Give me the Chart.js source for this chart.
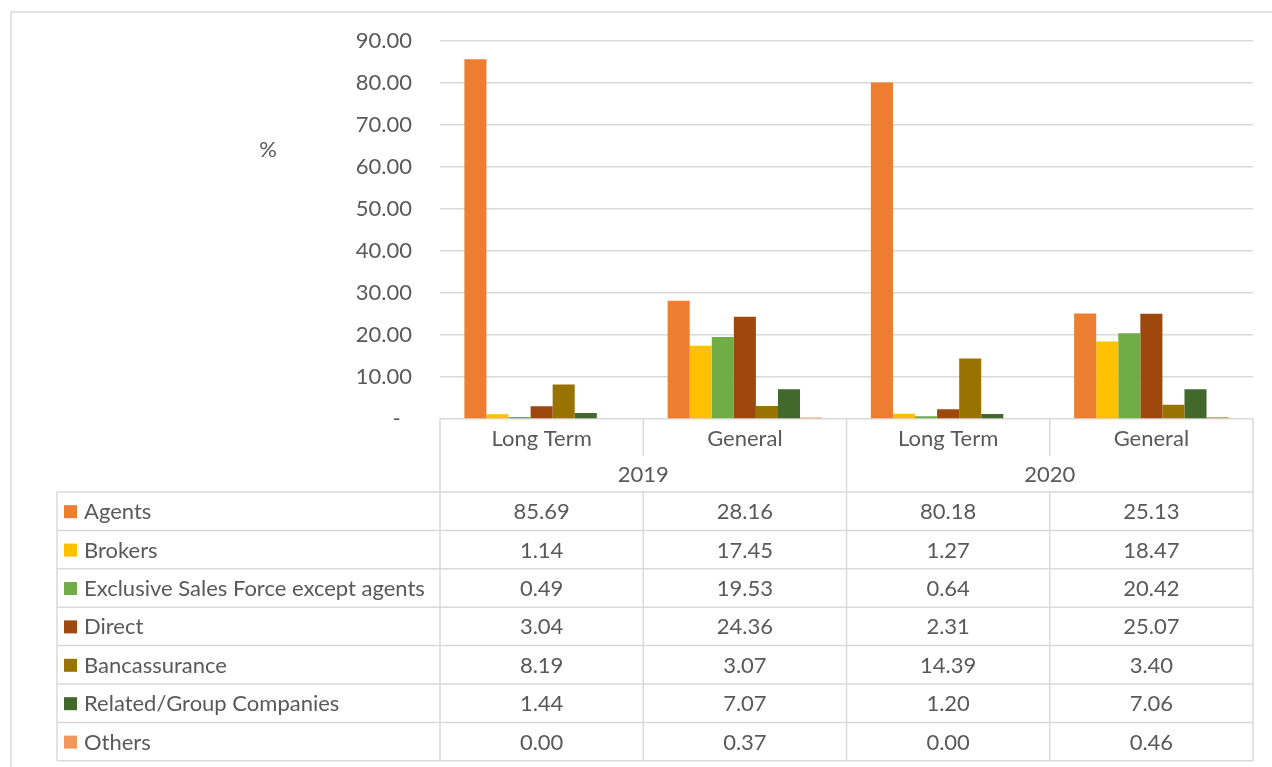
<!DOCTYPE html>
<html>
<head>
<meta charset="utf-8">
<script src="https://cdn.jsdelivr.net/npm/chart.js@4"></script>
<style>
  body { margin: 0; background: #fff; }
  canvas { display: block; }
</style>
</head>
<body>
<canvas id="barChart" width="1272" height="767"></canvas>
<script>
let groups = ["Long Term", "General", "Long Term", "General"];
let years = ["2019", "2020"];
let agents = [85.69, 28.16, 80.18, 25.13];
let brokers = [1.14, 17.45, 1.27, 18.47];
let salesForce = [0.49, 19.53, 0.64, 20.42];
let direct = [3.04, 24.36, 2.31, 25.07];
let bancassurance = [8.19, 3.07, 14.39, 3.40];
let relatedCompanies = [1.44, 7.07, 1.20, 7.06];
let others = [0.00, 0.37, 0.00, 0.46];
let yTicks = [0, 10, 20, 30, 40, 50, 60, 70, 80, 90];

let fontFamily = "Lato, 'Liberation Sans', sans-serif";
let fontSize = 22;
let textColor = '#595959';
let lineColor = '#d9d9d9';

// draws the outer frame, the "%" label and the data table under the bars
let tablePlugin = {
    id: 'dataTable',
    beforeDraw(chart) {
        let c = chart.ctx;
        c.save();
        c.strokeStyle = lineColor;
        c.lineWidth = 1.5;
        c.beginPath();
        c.moveTo(11, 767);
        c.lineTo(11, 12);
        c.lineTo(1272, 12);
        c.stroke();
        c.restore();
    },
    afterDraw(chart) {
        let c = chart.ctx;
        let x = chart.scales.x;
        let area = chart.chartArea;
        let half = (x.getPixelForValue(1) - x.getPixelForValue(0)) / 2;
        let edges = [];
        for (let i = 0; i < groups.length; i++) edges.push(x.getPixelForValue(i) - half);
        edges.push(x.getPixelForValue(groups.length - 1) + half);

        let top = area.bottom;
        let headRow = 37;
        let yearRow = 36;
        let bodyTop = top + headRow + yearRow;
        let rowH = 38.4;
        let tableLeft = 57;

        let series = chart.data.datasets;
        let bodyBottom = bodyTop + rowH * series.length;

        c.save();
        c.strokeStyle = lineColor;
        c.lineWidth = 1.5;
        c.beginPath();
        // vertical lines
        edges.forEach(function (ex, i) {
            if (i % 2 === 0) {
                c.moveTo(ex, top);
                c.lineTo(ex, bodyBottom);
            } else {
                c.moveTo(ex, top);
                c.lineTo(ex, top + headRow);
                c.moveTo(ex, bodyTop);
                c.lineTo(ex, bodyBottom);
            }
        });
        c.moveTo(tableLeft, bodyTop);
        c.lineTo(tableLeft, bodyBottom);
        // horizontal lines
        for (let r = 0; r <= series.length; r++) {
            c.moveTo(tableLeft, bodyTop + r * rowH);
            c.lineTo(edges[edges.length - 1], bodyTop + r * rowH);
        }
        c.stroke();

        c.fillStyle = textColor;
        c.font = fontSize + "px " + fontFamily;
        c.textAlign = 'center';
        c.textBaseline = 'middle';
        groups.forEach(function (g, i) {
            c.fillText(g, x.getPixelForValue(i), top + headRow / 2 + 1);
        });
        years.forEach(function (y, i) {
            c.fillText(y, edges[i * 2 + 1], top + headRow + yearRow / 2 + 1);
        });

        series.forEach(function (ds, r) {
            let cy = bodyTop + r * rowH + rowH / 2 + 1;
            c.fillStyle = ds.backgroundColor;
            c.fillRect(tableLeft + 7, cy - 7, 13, 13);
            c.fillStyle = textColor;
            c.textAlign = 'left';
            c.fillText(ds.label, tableLeft + 27, cy);
            c.textAlign = 'center';
            ds.data.forEach(function (v, i) {
                c.fillText(v.toFixed(2), x.getPixelForValue(i), cy);
            });
        });

        c.textAlign = 'center';
        c.fillText('%', 268, 150);
        c.restore();
    }
};

let ctx = document.getElementById("barChart").getContext('2d');
let myBarChart = new Chart(ctx, {
    type: 'bar',
    data: {
        labels: groups,
        datasets: [
            { label: "Agents", data: agents, backgroundColor: '#ED7D31' },
            { label: "Brokers", data: brokers, backgroundColor: '#FFC000' },
            { label: "Exclusive Sales Force except agents", data: salesForce, backgroundColor: '#70AD47' },
            { label: "Direct", data: direct, backgroundColor: '#9E480E' },
            { label: "Bancassurance", data: bancassurance, backgroundColor: '#997300' },
            { label: "Related/Group Companies", data: relatedCompanies, backgroundColor: '#43682B' },
            { label: "Others", data: others, backgroundColor: '#F1975A' }
        ]
    },
    options: {
        responsive: false,
        animation: false,
        devicePixelRatio: 1,
        categoryPercentage: 0.76,
        barPercentage: 1,
        layout: {
            padding: { top: 41, right: 19, bottom: 348, left: 0 }
        },
        plugins: {
            legend: { display: false },
            tooltip: { enabled: false }
        },
        scales: {
            x: {
                display: false
            },
            y: {
                min: 0,
                max: 90,
                afterBuildTicks: function (scale) {
                    scale.ticks = yTicks.map(function (v) { return { value: v }; });
                },
                afterFit: function (scale) {
                    scale.width = 440;
                },
                border: { display: false },
                grid: { color: lineColor, lineWidth: 1.5, drawTicks: false },
                ticks: {
                    padding: 28,
                    color: textColor,
                    font: { family: fontFamily, size: fontSize },
                    callback: function (v) { return v === 0 ? '-  ' : v.toFixed(2); }
                }
            }
        }
    },
    plugins: [tablePlugin]
});
</script>
</body>
</html>
